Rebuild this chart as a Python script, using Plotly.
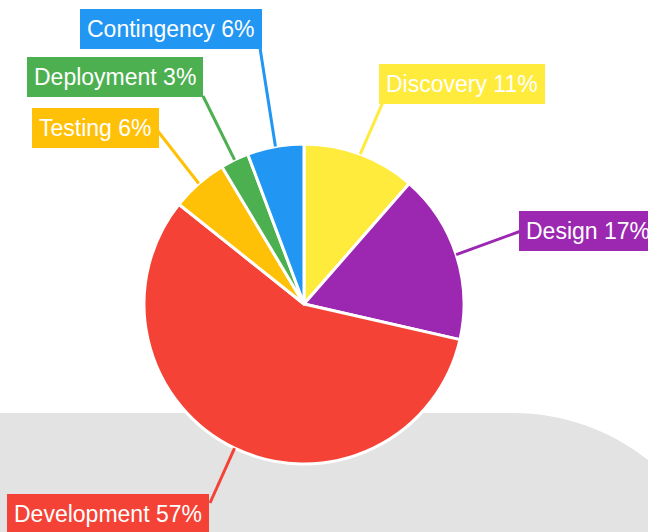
import math
import plotly.graph_objects as go

# ---- data ----
phases = ["Discovery", "Design", "Development", "Testing", "Deployment", "Contingency"]
weeks = [4, 6, 20, 2, 1, 2]
colors = ["#FFEB3B", "#9C27B0", "#F44336", "#FFC107", "#4CAF50", "#2196F3"]

# ---- layout (pixels) ----
W, H = 648, 532
CX, CY, R = 304, 304, 160
# label box centres and connector end points (pixels)
box_centers = [(462, 84), (588, 231), (108, 514), (95, 128), (115, 77), (171, 29)]
line_ends = [(383, 102), (521, 231), (210, 503), (157, 130), (203, 96), (260, 48)]


def px(x):
    return x / W


def py(y):
    return 1 - y / H


fig = go.Figure()
fig.add_trace(go.Pie(
    labels=phases, values=weeks, sort=False, direction="clockwise", rotation=0,
    marker=dict(colors=colors, line=dict(color="white", width=3)),
    textinfo="none", hoverinfo="label+percent", showlegend=False,
    domain=dict(x=[px(CX - R), px(CX + R)], y=[py(CY + R), py(CY - R)]),
))

shapes = []
# grey decorative background
k = 0.5523
rr = 217
x0, y0 = 513, 413
path = (f"M {px(-5)},{py(y0)} L {px(x0)},{py(y0)} "
        f"C {px(x0 + k * rr)},{py(y0)} {px(x0 + rr)},{py(y0 + rr - k * rr)} {px(x0 + rr)},{py(y0 + rr)} "
        f"L {px(x0 + rr)},{py(H + 10)} L {px(-5)},{py(H + 10)} Z")
shapes.append(dict(type="path", path=path, xref="paper", yref="paper",
                   fillcolor="#E3E3E3", line=dict(width=0), layer="below"))

total = sum(weeks)
cum = 0
annotations = []
for name, v, c, (bx, by), (lx, ly) in zip(phases, weeks, colors, box_centers, line_ends):
    mid = (cum + v / 2) / total * 2 * math.pi
    cum += v
    sx = CX + R * math.sin(mid)
    sy = CY - R * math.cos(mid)
    shapes.append(dict(type="line", xref="paper", yref="paper",
                       x0=px(sx), y0=py(sy), x1=px(lx), y1=py(ly),
                       line=dict(color=c, width=3), layer="above"))
    pct = round(v / total * 100)
    annotations.append(dict(
        x=px(bx), y=py(by), xref="paper", yref="paper", showarrow=False,
        text=f"{name} {pct}%", xanchor="center", yanchor="middle",
        font=dict(family="Liberation Sans, Arial, sans-serif", size=23, color="white"),
        bgcolor=c, borderpad=7, borderwidth=0,
    ))

fig.update_layout(
    width=W, height=H, margin=dict(l=0, r=0, t=0, b=0),
    paper_bgcolor="white", plot_bgcolor="white",
    shapes=shapes, annotations=annotations,
    xaxis=dict(visible=False), yaxis=dict(visible=False),
)

fig.write_html("out.html", config={"displayModeBar": False},
               post_script="document.body.style.margin='0';document.body.style.overflow='hidden';")
